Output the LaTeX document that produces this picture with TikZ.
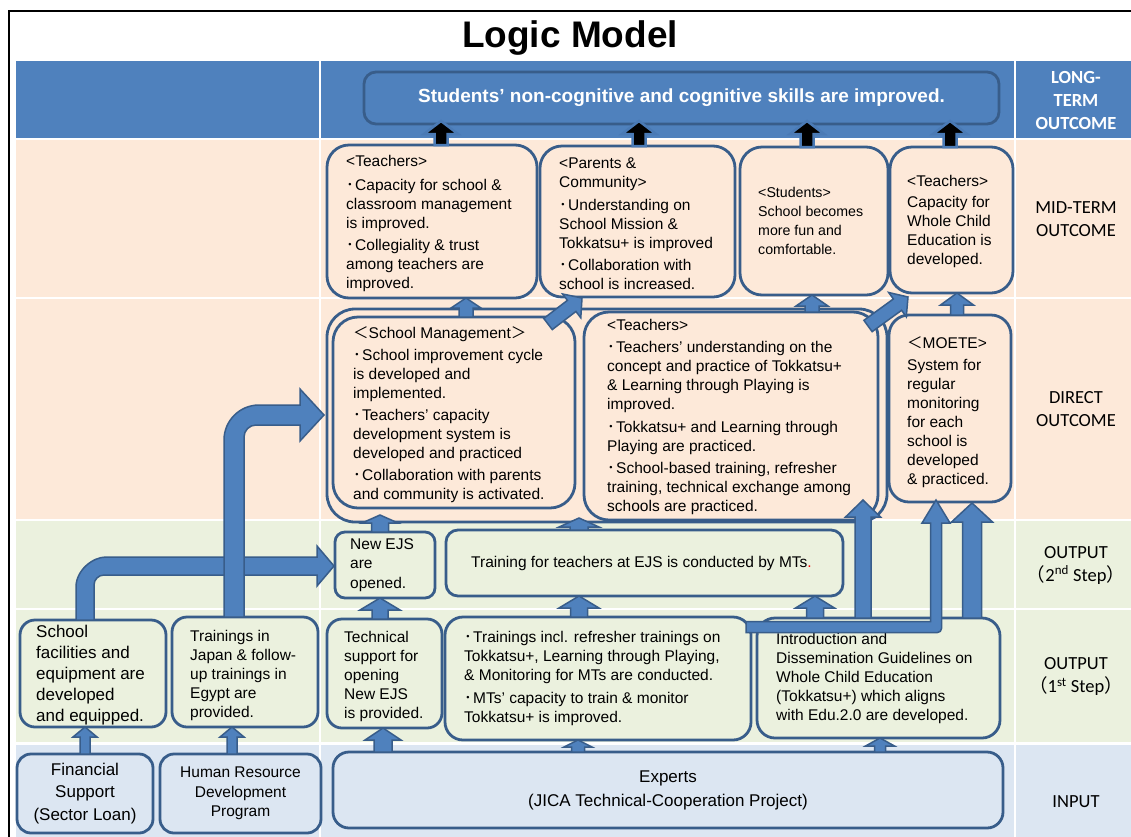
\documentclass[tikz,border=0pt]{standalone}
\usepackage{fontspec}
\setmainfont{Liberation Sans}
\newfontfamily\calfont{Carlito}
\newfontfamily\cjk{Noto Sans CJK JP}
\usetikzlibrary{calc}
\definecolor{ltblue}{HTML}{4F81BD}
\definecolor{bord}{HTML}{385D8A}
\definecolor{arrowblue}{HTML}{4A7AB5}
\definecolor{peach}{HTML}{FDE9D9}
\definecolor{sage}{HTML}{EBF1DE}
\definecolor{pale}{HTML}{DCE6F2}
\newcommand\bul{\makebox[9pt][l]{\cjk ･}}
\newcommand\fs[2]{\fontsize{#1}{#2}\selectfont}
\newcommand\lpar{\makebox[11pt][r]{\cjk （}}
\newcommand\rpar{\makebox[11pt][l]{\cjk ）}}
% vertical block arrow: [style] x, from, to, half shaft, half head, head length
\newcommand\varr[7][]{%
  \draw[barr,#1] let \p1=(#2,0), \p2=#3, \p3=#4 in
    (\x1-#5,\y2) -- (\x1-#5,\y3-#7) -- (\x1-#6,\y3-#7) -- (\x1,\y3)
    -- (\x1+#6,\y3-#7) -- (\x1+#5,\y3-#7) -- (\x1+#5,\y2) -- cycle;}
% general block arrow: from, to, half shaft, half head, head length
\newcommand\barrow[5]{%
  \path #1 coordinate (bA) #2 coordinate (bB);
  \path ($(bB)!#5!(bA)$) coordinate (bH);
  \draw[barr] ($(bA)!#3!90:(bB)$) -- ($(bH)!#3!-90:(bA)$) -- ($(bH)!#4!-90:(bA)$)
    -- (bB) -- ($(bH)!#4!90:(bA)$) -- ($(bH)!#3!90:(bA)$) -- ($(bA)!#3!-90:(bB)$) -- cycle;}
\begin{document}
\begin{tikzpicture}[x=1pt,y=-1pt,
  box/.style={draw=bord, line width=2.8pt, rounded corners=#1, outer sep=0pt, inner sep=0pt, anchor=north west},
  box/.default=12pt,
  barr/.style={fill=ltblue, draw=bord, line width=1.5pt, line join=miter},
  blk/.style={fill=black, draw=arrowblue, line width=2.5pt},
  txt/.style={align=left, inner sep=0pt, anchor=west, font=\fs{15.5}{19}},
  lab/.style={align=center, inner sep=0pt, font=\calfont\fs{18.5}{23}}]
\useasboundingbox (0,0) rectangle (1131,836);
\fill[white] (0,0) rectangle (1131,836);
% bands
\foreach \ya/\yb/\c in {61/137.5/ltblue, 140/296.5/peach, 298.5/518.5/peach, 520.5/607.5/sage, 609.5/742/sage, 744.5/850/pale}{
  \fill[\c] (16,\ya) rectangle (319,\yb);
  \fill[\c] (321,\ya) rectangle (1014,\yb);
  \fill[\c] (1016,\ya) rectangle (1140,\yb);
}
\draw[line width=2.5pt] (9,850) -- (9,11) -- (1140,11);
\node[font=\bfseries\fs{37}{44}, anchor=base, inner sep=0pt] (title) at (570,47) {Logic Model};

% long-term
\node[box=12pt, fill=ltblue, minimum width=635pt, minimum height=52pt, anchor=north west, font=\bfseries\fs{19}{23}, text=white] (lt) at (364,72) {Students’ non-cognitive and cognitive skills are improved.};

% mid-term boxes
\node[box=22pt, fill=peach, minimum width=210pt, minimum height=153pt] (mt1) at (327,145) {};
\node[box=22pt, fill=peach, minimum width=195pt, minimum height=151pt] (mt2) at (540,146) {};
\node[box=22pt, fill=peach, minimum width=148pt, minimum height=148pt] (mt3) at (740,147) {};
\node[box=22pt, fill=peach, minimum width=123pt, minimum height=146pt] (mt4) at (890,147) {};
\node[txt] (mt1t) at ($(mt1.west)+(19,2)$) {<Teachers>\\[5pt]
\bul Capacity for school \&\\classroom management\\is improved.\\[3pt]
\bul Collegiality \& trust\\among teachers are\\improved.};
\node[txt] (mt2t) at ($(mt2.west)+(19,2)$) {<Parents \&\\Community>\\[4pt]
\bul Understanding on\\School Mission \&\\Tokkatsu+ is improved\\[3pt]
\bul Collaboration with\\school is increased.};
\node[txt, font=\fs{14.2}{19}] (mt3t) at ($(mt3.west)+(18,0)$) {<Students>\\School becomes\\more fun and\\comfortable.};
\node[txt] (mt4t) at ($(mt4.west)+(17,1)$) {<Teachers>\\[2pt]Capacity for\\Whole Child\\Education is\\developed.};

% direct outcome
\node[box=28pt, fill=peach, minimum width=560pt, minimum height=213pt] (grp) at (327,309) {};
\node[box=25pt, fill=peach, minimum width=242pt, minimum height=191pt] (do1) at (333,317) {};
\node[box=25pt, fill=peach, minimum width=294pt, minimum height=208pt] (do2) at (584,312) {};
\node[box=20pt, fill=peach, minimum width=122pt, minimum height=187pt] (do3) at (889,315) {};
\node[txt] (do1t) at ($(do1.west)+(20,2)$) {{\cjk ＜}School Management{\cjk ＞}\\[3pt]
\bul School improvement cycle\\is developed and\\implemented.\\[3pt]
\bul Teachers’ capacity\\development system is\\developed and practiced\\[3pt]
\bul Collaboration with parents\\and community is activated.};
\node[txt] (do2t) at ($(do2.west)+(23,1)$) {<Teachers>\\[3pt]
\bul Teachers’ understanding on the\\concept and practice of Tokkatsu+\\\& Learning through Playing is\\improved.\\[4pt]
\bul Tokkatsu+ and Learning through\\Playing are practiced.\\[3pt]
\bul School-based training, refresher\\training, technical exchange among\\schools are practiced.};
\node[txt] (do3t) at ($(do3.west)+(18,4)$) {{\cjk ＜}MOETE>\\[3pt]System for\\regular\\monitoring\\for each\\school is\\developed\\\& practiced.};

% output 2nd step
\node[box=10pt, fill=sage, minimum width=100pt, minimum height=66pt] (newejs) at (335,532) {};
\node[box=12pt, fill=sage, minimum width=397pt, minimum height=66pt] (tft) at (446,530) {};
\node[txt, font=\fs{15.5}{19.5}] (newejst) at ($(newejs.west)+(15,0)$) {New EJS\\are\\opened.};
\node[txt] (tftt) at ($(tft.west)+(25,0)$) {Training for teachers at EJS is conducted by MTs{\color{red}.}};

% output 1st step
\node[box=15pt, fill=sage, minimum width=146pt, minimum height=107pt] (sf) at (20,620) {};
\node[box=15pt, fill=sage, minimum width=146pt, minimum height=110pt] (tj) at (172,617) {};
\node[box=15pt, fill=sage, minimum width=115pt, minimum height=109pt] (ts) at (327,619) {};
\node[box=18pt, fill=sage, minimum width=306pt, minimum height=123pt] (ti) at (445,617) {};
\node[box=18pt, fill=sage, minimum width=243pt, minimum height=120pt] (intro) at (757,618) {};
\node[txt, font=\fs{17}{21}] (sft) at ($(sf.west)+(16,2)$) {School\\facilities and\\equipment are\\developed\\and equipped.};
\node[txt] (tjt) at ($(tj.west)+(18,3)$) {Trainings in\\Japan \& follow-\\up trainings in\\Egypt are\\provided.};
\node[txt] (tst) at ($(ts.west)+(17,3)$) {Technical\\support for\\opening\\New EJS\\is provided.};
\node[txt] (tit) at ($(ti.west)+(19,0)$) {\bul Trainings incl. refresher trainings on\\Tokkatsu+, Learning through Playing,\\\& Monitoring for MTs are conducted.\\[4pt]
\bul MTs’ capacity to train \& monitor\\Tokkatsu+ is improved.};
\node[txt] (introt) at ($(intro.west)+(19,0)$) {Introduction and\\Dissemination Guidelines on\\Whole Child Education\\(Tokkatsu+) which aligns\\with Edu.2.0 are developed.};

% input
\node[box=14pt, fill=pale, minimum width=136pt, minimum height=79pt, align=center, font=\fs{17}{22.5}] (fin) at (17,754) {Financial\\Support\\(Sector Loan)};
\node[box=14pt, fill=pale, minimum width=161pt, minimum height=79pt, align=center, font=\fs{15.5}{19.5}] (hr) at (160,754) {Human Resource\\Development\\Program};
\node[box=16pt, fill=pale, minimum width=670pt, minimum height=76pt, align=center, font=\fs{17}{24}] (experts) at (333,752) {Experts\\(JICA Technical-Cooperation Project)};

% right labels
\node[lab, text=white, font=\calfont\bfseries\fs{18.5}{23}] (llt) at (1076,100) {LONG-\\TERM\\OUTCOME};
\node[lab] (lmt) at (1076,219.5) {MID-TERM\\OUTCOME};
\node[lab] (ldo) at (1076,409) {DIRECT\\OUTCOME};
\node[lab] (lo2) at (1076,565) {OUTPUT\\\lpar 2\textsuperscript{nd} Step\rpar};
\node[lab] (lo1) at (1076,676.5) {OUTPUT\\\lpar 1\textsuperscript{st} Step\rpar};
\node[lab] (lin) at (1076,802) {INPUT};

% small arrows
\varr{466}{(do1.north)}{(mt1.south)}{7pt}{15pt}{10pt}
\varr{812}{(do2.north)}{(mt3.south)}{7pt}{16pt}{11pt}
\varr{957}{(do3.north)}{(mt4.south)}{6.5pt}{16.5pt}{12pt}
\varr{380}{(newejs.north)}{(0,515)}{8.5pt}{18pt}{8pt}
\varr{579}{(tft.north)}{(0,518)}{9pt}{20pt}{9pt}
\varr{380}{(ts.north)}{(newejs.south)}{8pt}{20pt}{12pt}
\varr{579}{(ti.north)}{(tft.south)}{8.5pt}{20pt}{12pt}
\varr{815}{(intro.north)}{(tft.south)}{8.5pt}{19.5pt}{12pt}
\varr{85}{(fin.north)}{(sf.south)}{5pt}{12pt}{10pt}
\varr{232}{(hr.north)}{(tj.south)}{5pt}{12pt}{10pt}
\varr{383}{(experts.north)}{(ts.south)}{9pt}{18pt}{12pt}
\varr{578}{(experts.north)}{(ti.south)}{6.5pt}{14pt}{7pt}
\varr{880}{(experts.north)}{(intro.south)}{5.5pt}{14.5pt}{8pt}

% black arrows to long-term outcome
\varr[blk]{441}{(mt1.north)}{(0,121)}{6.5pt}{17pt}{13pt}
\varr[blk]{639}{(mt2.north)}{(0,121)}{6.5pt}{17pt}{13pt}
\varr[blk]{807}{(mt3.north)}{(0,121)}{6.5pt}{17pt}{13pt}
\varr[blk]{950}{(mt4.north)}{(0,121)}{6.5pt}{17pt}{13pt}

% big bent arrows
\draw[barr] (76,620) -- (76,587) .. controls (76,570.4) and (92.6,557) .. (106,557) -- (317,557) -- (317,546) -- (334,566) -- (317,586) -- (317,575) -- (104,575) .. controls (98.5,575) and (94,579.5) .. (94,585) -- (94,620) -- cycle;
\draw[barr] (224,617) -- (224,440) .. controls (224,420.7) and (239.7,405) .. (259,405) -- (300,405) -- (300,389) -- (324,415) -- (300,441) -- (300,425) -- (256,425) .. controls (249.4,425) and (244,430.4) .. (244,437) -- (244,617) -- cycle;
\draw[barr] (746,621.5) -- (930.5,621.5) -- (930.5,523) -- (922,523) -- (936,500) -- (950,523) -- (941.5,523) -- (941.5,628.5) .. controls (941.5,630.7) and (939.7,632.5) .. (937.5,632.5) -- (746,632.5) -- cycle;
\varr{863}{(intro.north)}{(0,500)}{8pt}{17.5pt}{17pt}
\varr{972}{(intro.north)}{(0,503)}{9.5pt}{20.5pt}{19pt}

% diagonal arrows
\barrow{(548,324)}{(582,298)}{7pt}{15pt}{13pt}
\barrow{(868,326)}{(908,297)}{7pt}{15pt}{13pt}
\end{tikzpicture}
\end{document}
